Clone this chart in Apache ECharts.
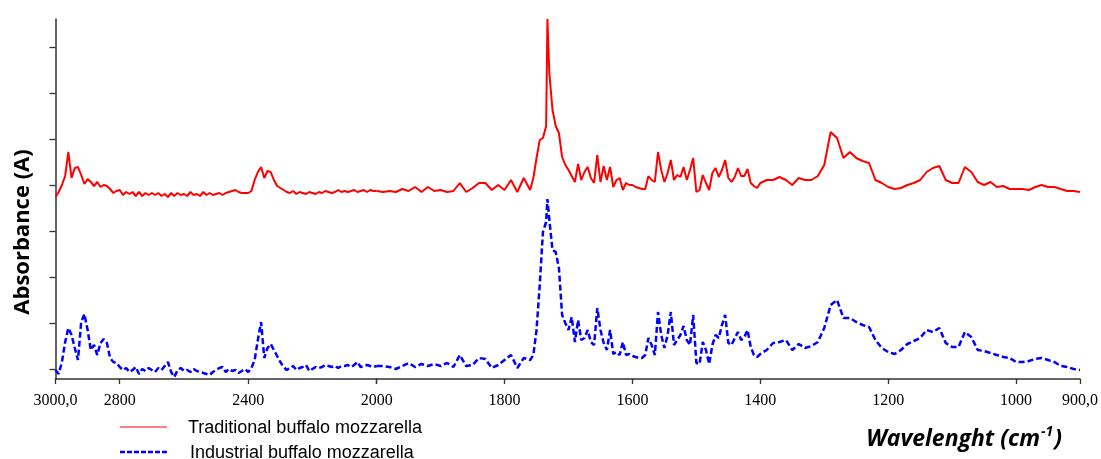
<!DOCTYPE html>
<html>
<head>
<meta charset="utf-8">
<title>FTIR spectra – buffalo mozzarella</title>
<script src="https://cdn.jsdelivr.net/npm/echarts@6/dist/echarts.min.js"></script>
<style>
  html, body { margin: 0; padding: 0; background: #fff; }
  #chart { width: 1101px; height: 459px; }
</style>
</head>
<body>
<div id="chart"></div>
<script>
// Sampled wavenumbers (cm-1), shared by both spectra
const wavenumbers = [
  3000, 2990, 2980, 2970, 2960, 2950, 2940, 2930, 2920, 2910,
  2900, 2890, 2880, 2870, 2860, 2850, 2840, 2830, 2820, 2810,
  2800, 2790, 2780, 2770, 2760, 2750, 2740, 2730, 2720, 2710,
  2700, 2690, 2680, 2670, 2660, 2650, 2640, 2630, 2620, 2610,
  2600, 2590, 2580, 2570, 2560, 2550, 2540, 2530, 2520, 2510,
  2500, 2490, 2480, 2470, 2460, 2450, 2440, 2430, 2420, 2410,
  2400, 2390, 2380, 2370, 2360, 2350, 2340, 2330, 2320, 2310,
  2300, 2290, 2280, 2270, 2260, 2250, 2240, 2230, 2220, 2210,
  2200, 2190, 2180, 2170, 2160, 2150, 2140, 2130, 2120, 2110,
  2100, 2090, 2080, 2070, 2060, 2050, 2040, 2030, 2020, 2010,
  2000,
  1990, 1980, 1970, 1960, 1950, 1940, 1930, 1920, 1910, 1900,
  1890, 1880, 1870, 1860, 1850, 1840, 1830, 1820, 1810, 1800,
  1790, 1780, 1770, 1760,
  1755, 1750, 1745, 1740, 1735, 1733,
  1730, 1725, 1720, 1715, 1710, 1705, 1700, 1695, 1690, 1685,
  1680, 1675, 1670, 1665, 1660, 1655, 1650, 1645, 1640, 1635,
  1630, 1625, 1620, 1615, 1610, 1605, 1600, 1595, 1590, 1585,
  1580, 1575, 1570, 1565, 1560, 1555, 1550, 1545, 1540, 1535,
  1530, 1525, 1520, 1515, 1510, 1505, 1500, 1495, 1490, 1485,
  1480, 1475, 1470, 1465, 1460, 1455, 1450, 1445, 1440, 1435,
  1430, 1425, 1420, 1415, 1410, 1405, 1400,
  1390, 1380, 1370, 1360, 1350, 1340, 1330, 1320, 1310, 1300,
  1290, 1280, 1270, 1260, 1250, 1240, 1230, 1220, 1210, 1200,
  1190, 1180, 1170, 1160, 1150, 1140, 1130, 1120, 1110, 1100,
  1090, 1080, 1070, 1060, 1050, 1040, 1030, 1020, 1010, 1000,
  990, 980, 970, 960, 950, 940, 930, 920, 910, 900
];

// Absorbance (offset, arbitrary units) – traditional mozzarella
const traditional = [
  1.82, 1.87, 1.94, 2.03, 2.27, 2.01, 2.11, 2.12, 2.04, 1.95,
  2.00, 1.97, 1.93, 1.97, 1.92, 1.94, 1.93, 1.90, 1.86, 1.88,
  1.89, 1.84, 1.87, 1.85, 1.87, 1.83, 1.87, 1.83, 1.86, 1.84,
  1.86, 1.84, 1.86, 1.83, 1.85, 1.82, 1.86, 1.83, 1.86, 1.84,
  1.85, 1.83, 1.87, 1.84, 1.85, 1.83, 1.87, 1.84, 1.86, 1.84,
  1.85, 1.86, 1.84, 1.86, 1.87, 1.88, 1.89, 1.87, 1.86, 1.86,
  1.86, 1.88, 1.99, 2.07, 2.12, 2.01, 2.08, 2.07, 1.99, 1.93,
  1.91, 1.89, 1.87, 1.86, 1.88, 1.85, 1.87, 1.86, 1.85, 1.87,
  1.86, 1.85, 1.87, 1.86, 1.88, 1.87, 1.86, 1.87, 1.89, 1.87,
  1.88, 1.87, 1.88, 1.89, 1.87, 1.88, 1.89, 1.87, 1.89, 1.88,
  1.88,
  1.87, 1.88, 1.87, 1.90, 1.88, 1.92, 1.87, 1.92, 1.88, 1.89,
  1.87, 1.88, 1.96, 1.87, 1.91, 1.96, 1.96, 1.89, 1.94, 1.89,
  1.99, 1.87, 2.01, 1.89,
  2.01, 2.21, 2.39, 2.41, 2.53, 3.60,
  3.06, 2.69, 2.53, 2.46, 2.22, 2.14, 2.09, 2.03, 1.97, 2.15,
  1.99, 2.07, 2.12, 2.01, 1.96, 2.24, 1.97, 2.13, 1.99, 2.12,
  1.92, 1.99, 2.01, 1.89, 1.96, 1.94, 1.94, 1.92, 1.91, 1.90,
  1.90, 2.03, 1.99, 1.97, 2.27, 2.09, 1.97, 2.06, 2.19, 1.99,
  2.04, 2.02, 2.12, 1.99, 2.09, 2.21, 1.87, 1.89, 2.04, 1.96,
  1.89, 2.06, 2.11, 2.02, 2.09, 2.19, 2.01, 1.97, 2.02, 2.11,
  2.03, 2.03, 2.10, 1.96, 1.93, 1.91, 1.96,
  1.99, 1.99, 2.02, 1.99, 1.94, 2.01, 1.99, 1.99, 2.03, 2.14,
  2.47, 2.41, 2.21, 2.27, 2.21, 2.18, 2.16, 1.99, 1.96, 1.92,
  1.90, 1.91, 1.94, 1.96, 1.99, 2.07, 2.11, 2.13, 1.99, 1.96,
  1.96, 2.12, 2.07, 1.97, 1.94, 1.97, 1.92, 1.93, 1.90, 1.90,
  1.90, 1.89, 1.92, 1.94, 1.92, 1.92, 1.90, 1.88, 1.88, 1.87
];

// Absorbance (arbitrary units) – industrial mozzarella
const industrial = [
  0.09, 0.05, 0.17, 0.37, 0.51, 0.44, 0.31, 0.19, 0.57, 0.65,
  0.49, 0.29, 0.34, 0.24, 0.36, 0.40, 0.36, 0.21, 0.17, 0.16,
  0.12, 0.09, 0.11, 0.07, 0.09, 0.12, 0.05, 0.10, 0.08, 0.11,
  0.09, 0.07, 0.11, 0.09, 0.13, 0.17, 0.07, 0.02, 0.09, 0.11,
  0.08, 0.09, 0.07, 0.10, 0.08, 0.07, 0.06, 0.05, 0.04, 0.07,
  0.09, 0.11, 0.12, 0.07, 0.10, 0.08, 0.09, 0.06, 0.08, 0.10,
  0.07, 0.11, 0.19, 0.39, 0.57, 0.21, 0.31, 0.35, 0.29, 0.23,
  0.17, 0.12, 0.09, 0.11, 0.13, 0.09, 0.11, 0.12, 0.14, 0.08,
  0.10, 0.12, 0.11, 0.12, 0.14, 0.13, 0.12, 0.13, 0.11, 0.13,
  0.13, 0.14, 0.12, 0.14, 0.17, 0.12, 0.13, 0.14, 0.13, 0.12,
  0.13,
  0.13, 0.12, 0.10, 0.13, 0.16, 0.12, 0.15, 0.13, 0.15, 0.13,
  0.16, 0.12, 0.24, 0.13, 0.14, 0.21, 0.20, 0.11, 0.14, 0.19,
  0.24, 0.11, 0.21, 0.19,
  0.24, 0.49, 0.94, 1.47, 1.57, 1.80,
  1.59, 1.29, 1.27, 1.11, 0.64, 0.56, 0.49, 0.62, 0.37, 0.59,
  0.39, 0.41, 0.49, 0.37, 0.34, 0.71, 0.49, 0.36, 0.29, 0.49,
  0.25, 0.27, 0.24, 0.37, 0.24, 0.25, 0.23, 0.22, 0.21, 0.21,
  0.24, 0.41, 0.34, 0.24, 0.67, 0.44, 0.31, 0.44, 0.67, 0.34,
  0.39, 0.44, 0.53, 0.39, 0.34, 0.64, 0.16, 0.15, 0.37, 0.29,
  0.15, 0.34, 0.44, 0.41, 0.54, 0.64, 0.36, 0.34, 0.41, 0.47,
  0.39, 0.42, 0.49, 0.32, 0.24, 0.22, 0.25,
  0.29, 0.36, 0.37, 0.39, 0.29, 0.35, 0.31, 0.33, 0.37, 0.51,
  0.74, 0.79, 0.61, 0.61, 0.57, 0.54, 0.52, 0.39, 0.31, 0.27,
  0.25, 0.29, 0.35, 0.38, 0.41, 0.49, 0.47, 0.51, 0.36, 0.32,
  0.32, 0.47, 0.42, 0.29, 0.28, 0.26, 0.24, 0.22, 0.21, 0.17,
  0.17, 0.18, 0.20, 0.21, 0.19, 0.17, 0.13, 0.12, 0.10, 0.09
];

// X tick positions and their printed labels (the scale changes at 2000 cm-1)
const xTickValues = [3000, 2800, 2400, 2000, 1800, 1600, 1400, 1200, 1000, 900];
const xTickLabels = ['3000,0', '2800', '2400', '2000', '1800', '1600', '1400', '1200', '1000', '900,0'];
// Unlabelled absorbance ticks
const yTickValues = [0.10, 0.56, 1.02, 1.48, 1.94, 2.40, 2.86, 3.32];

const seriesNames = ['Traditional buffalo mozzarella', 'Industrial buffalo mozzarella'];

const HIGH = { min: 2000, max: 3000 };   // compressed region, left panel
const LOW = { min: 900, max: 2000 };     // expanded region, right panel

function segment(values, range) {
  const out = [];
  for (let i = 0; i < wavenumbers.length; i++) {
    const w = wavenumbers[i];
    if (w >= range.min && w <= range.max) out.push([w, values[i]]);
  }
  return out;
}
function ticksIn(range) {
  return xTickValues.filter(v => v >= range.min && v <= range.max);
}
function labelFor(v) {
  return xTickLabels[xTickValues.indexOf(v)];
}

const AXIS_COLOR = '#333333';
const PLOT_TOP = 19, PLOT_H = 360;
const X_LEFT = 55.5, X_BREAK = 376.7, X_RIGHT = 1082.4;

function xAxisFor(range, grid, labelValues) {
  return {
    type: 'value', gridIndex: grid, min: range.min, max: range.max, inverse: true,
    axisLine: { show: true, onZero: false, lineStyle: { color: AXIS_COLOR, width: 1.5 } },
    axisTick: { show: true, customValues: ticksIn(range), length: 5, lineStyle: { color: AXIS_COLOR, width: 1.3 } },
    axisLabel: {
      show: true, customValues: labelValues, formatter: labelFor,
      color: '#000', fontFamily: '"Liberation Serif", serif', fontSize: 16, margin: 14,
      showMinLabel: true, showMaxLabel: true
    },
    splitLine: { show: false }
  };
}

const red = '#ff0000', blue = '#0000ff';
const redLine = { color: red, width: 2 };
const blueLine = { color: blue, width: 2.5, type: [6, 3] };

function lineSeries(name, data, axis, style) {
  return {
    type: 'line', name, data, xAxisIndex: axis, yAxisIndex: axis,
    showSymbol: false, symbol: 'none', lineStyle: style, itemStyle: { color: style.color },
    silent: true, animation: false
  };
}

// Key: sample line followed by its label
function legendEntry(name, y, textX, lineStyle) {
  return [
    {
      type: 'line', silent: true,
      shape: { x1: 120, y1: y, x2: 167, y2: y },
      style: lineStyle
    },
    {
      type: 'text', x: textX, y: y + 1, silent: true,
      style: {
        text: name, fill: '#000', align: 'left', verticalAlign: 'middle',
        font: '18px "Liberation Sans", Arial, sans-serif'
      }
    }
  ];
}

const option = {
  animation: false,
  backgroundColor: '#fff',
  grid: [
    { left: X_LEFT, top: PLOT_TOP, width: X_BREAK - X_LEFT, height: PLOT_H },
    { left: X_BREAK, top: PLOT_TOP, width: X_RIGHT - X_BREAK, height: PLOT_H }
  ],
  xAxis: [
    xAxisFor(HIGH, 0, ticksIn(HIGH)),
    xAxisFor(LOW, 1, ticksIn(LOW).filter(v => v !== 2000))
  ],
  yAxis: [
    {
      type: 'value', gridIndex: 0, min: 0, max: 3.6,
      axisLine: { show: true, lineStyle: { color: AXIS_COLOR, width: 1.5 } },
      axisTick: { show: true, customValues: yTickValues, length: 6, lineStyle: { color: AXIS_COLOR, width: 1.3 } },
      axisLabel: { show: false, customValues: yTickValues },
      splitLine: { show: false }
    },
    { type: 'value', gridIndex: 1, min: 0, max: 3.6, show: false, splitLine: { show: false } }
  ],
  series: [
    lineSeries(seriesNames[0], segment(traditional, HIGH), 0, redLine),
    lineSeries(seriesNames[0], segment(traditional, LOW), 1, redLine),
    lineSeries(seriesNames[1], segment(industrial, HIGH), 0, blueLine),
    lineSeries(seriesNames[1], segment(industrial, LOW), 1, blueLine)
  ],
  graphic: [
    ...legendEntry(seriesNames[0], 427, 188, { stroke: red, lineWidth: 1 }),
    ...legendEntry(seriesNames[1], 452, 190, { stroke: blue, lineWidth: 2.5, lineDash: [5, 2] }),
    {
      type: 'text', x: 23, y: 232, rotation: Math.PI / 2, silent: true,
      style: {
        text: 'Absorbance (A)', fill: '#000', align: 'center', verticalAlign: 'middle',
        font: 'bold 22px "Open Sans", sans-serif'
      }
    },
    {
      type: 'text', x: 1062, y: 439, silent: true,
      style: {
        text: '{t|Wavelenght (cm}{s|-1}{t|)}', align: 'right', verticalAlign: 'middle',
        rich: {
          t: { font: 'italic bold 23px "Open Sans", sans-serif', fill: '#000', lineHeight: 28 },
          s: { font: 'italic bold 14px "Open Sans", sans-serif', fill: '#000', lineHeight: 28, verticalAlign: 'top', padding: [0, 1, 10, 1] }
        }
      }
    }
  ]
};

const chart = echarts.init(document.getElementById('chart'));
chart.setOption(option);
</script>
</body>
</html>
